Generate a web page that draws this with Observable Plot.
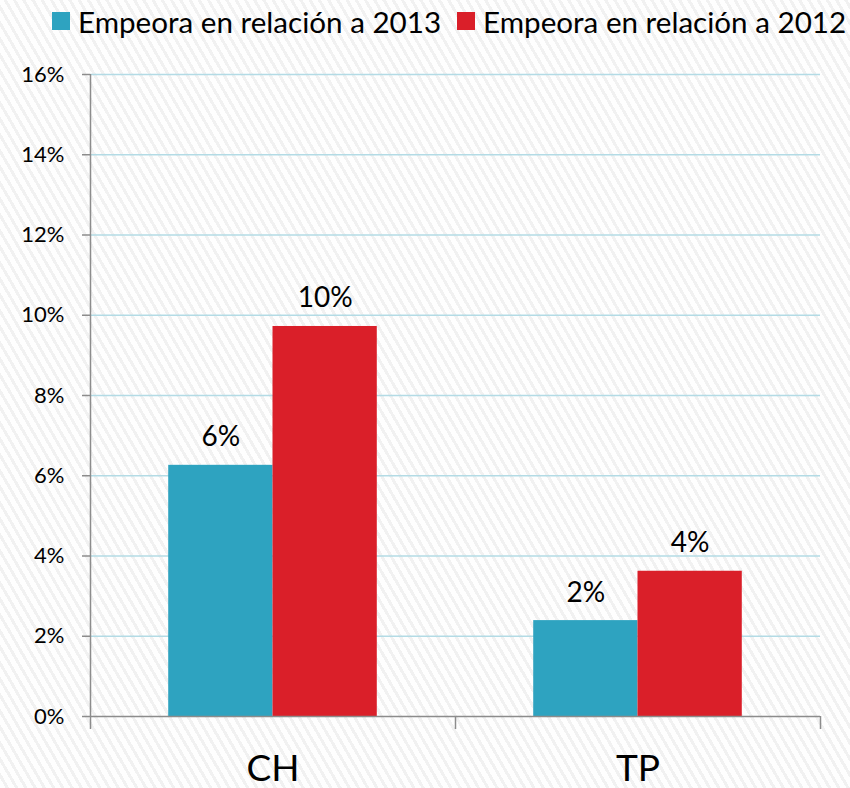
<!DOCTYPE html>
<html><head><meta charset="utf-8">
<script src="https://cdn.jsdelivr.net/npm/d3@7"></script>
<script src="https://cdn.jsdelivr.net/npm/@observablehq/plot@0.6"></script>
<style>
html,body{margin:0;padding:0;}
body{width:850px;height:788px;overflow:hidden;font-family:Lato,sans-serif;
  background:repeating-linear-gradient(60deg,#fefefe 0 5px,#f1f1f1 5px 8px);}
#legend{display:flex;align-items:center;height:42px;padding-left:52px;font-size:29.6px;color:#000;white-space:nowrap;}
.item{display:flex;align-items:center;margin-right:16px;}
.sw{width:18px;height:18px;margin-right:8px;}
#chart svg{display:block;}
</style></head><body>
<div id="legend"></div>
<div id="chart"></div>
<script>
const categories = ["CH", "TP"];
const series = ["Empeora en relación a 2013", "Empeora en relación a 2012"];
const colors = ["#2ea3c0", "#da1f29"];
const values2013 = [6.26, 2.39];
const values2012 = [9.72, 3.62];
const yTicks = [0, 2, 4, 6, 8, 10, 12, 14, 16];
const gapWidth = 1.5; // Excel-style gap width between clusters (fraction of a bar)

const valuesBySeries = [values2013, values2012];
const rows = categories.flatMap((cat, ci) =>
  series.map((s, si) => ({cat, ci, series: s, si, value: valuesBySeries[si][ci]})));
const barW = 1 / (series.length + gapWidth);
const x1 = d => d.ci + gapWidth * barW / 2 + d.si * barW;
const x2 = d => x1(d) + barW;
const xc = d => x1(d) + barW / 2;
const gray = "#8c8c8c";

// legend
const legend = d3.select("#legend");
series.forEach((s, i) => {
  const it = legend.append("div").attr("class", "item");
  it.append("div").attr("class", "sw").style("background", colors[i]);
  it.append("span").text(s);
});

const chart = Plot.plot({
  width: 850,
  height: 746,
  marginTop: 32,
  marginBottom: 72,
  marginLeft: 90,
  marginRight: 30,
  style: {background: "transparent", fontFamily: "Lato, sans-serif", color: "#000"},
  x: {type: "linear", domain: [0, categories.length], axis: null},
  y: {domain: [0, 16], axis: null},
  color: {domain: series, range: colors},
  marks: [
    Plot.gridY(yTicks.filter(t => t > 0), {stroke: "#b3dbe5", strokeOpacity: 1, strokeWidth: 1.5}),
    Plot.rectY(rows, {x1, x2, y1: 0, y2: "value", fill: "series"}),
    Plot.text(rows, {x: xc, y: "value", text: d => Math.round(d.value) + "%", lineAnchor: "bottom", dy: -19, fontSize: 28, fill: "#000"}),
    Plot.axisY({ticks: yTicks, tickFormat: d => d + "%", tickSize: 8, tickPadding: 18, stroke: gray, strokeWidth: 1.5, fill: "#000", fontSize: 22, label: null}),
    Plot.ruleX([0], {y1: 0, y2: 16, stroke: gray, strokeWidth: 1.5}),
    Plot.ruleY([0], {stroke: gray, strokeWidth: 1.5}),
    Plot.axisX({ticks: d3.range(categories.length + 1), tickFormat: () => "", tickSize: 13, stroke: gray, strokeWidth: 1.5, label: null}),
    Plot.axisX({ticks: categories.map((c, i) => i + 0.5), tickFormat: v => categories[Math.floor(v)], tickSize: 0, tickPadding: 38, fontSize: 37, fill: "#000", label: null})
  ]
});
document.getElementById("chart").appendChild(chart);
</script>
</body></html>
